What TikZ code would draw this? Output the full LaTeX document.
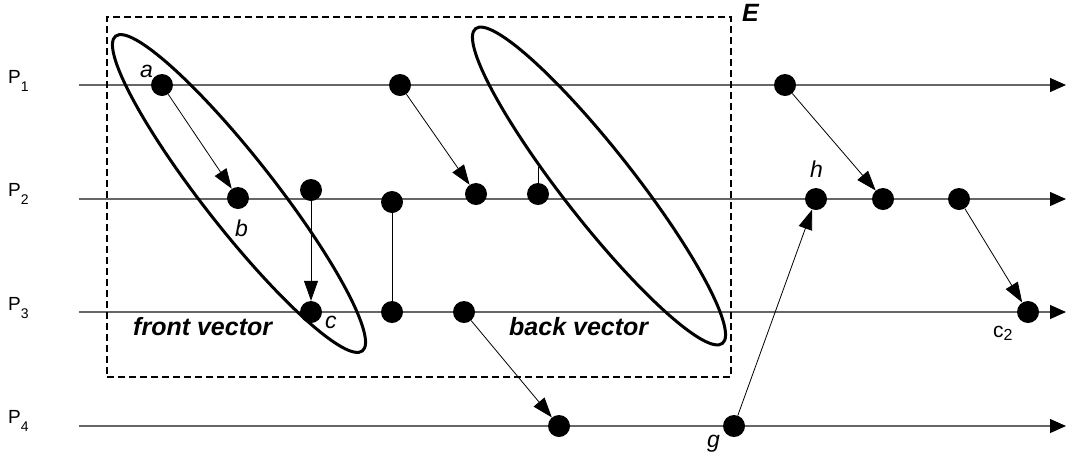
\documentclass[tikz,border=0pt]{standalone}
\usepackage{fontspec}
\setmainfont{Liberation Sans}
\usetikzlibrary{arrows.meta}
\begin{document}
\begin{tikzpicture}[x=1pt,y=-1pt,
  dot/.style={circle,fill=black,inner sep=0pt,minimum size=22pt},
  proc/.style={draw=black!60,line width=1.1pt,-{Triangle[length=16pt,width=14pt,color=black]}},
  msg/.style={draw=black,line width=0.8pt,-{Triangle[length=20pt,width=14pt]}},
  link/.style={draw=black,line width=0.8pt},
  vecell/.style={draw=black,line width=3pt},
  boxE/.style={draw=black,line width=1.4pt,dash pattern=on 7pt off 4pt},
  plab/.style={anchor=base west,inner sep=0pt,font=\fontsize{19}{19}\selectfont},
  lab/.style={anchor=base west,inner sep=0pt,font=\fontsize{23}{23}\selectfont\itshape},
  blab/.style={anchor=base west,inner sep=0pt,font=\fontsize{25}{25}\selectfont\bfseries\itshape}]
\useasboundingbox (0,0) rectangle (1066,459);
% process labels
\node[plab] (P1) at (8,83) {P\raisebox{-8pt}{\fontsize{14}{14}\selectfont 1}};
\node[plab] (P2) at (8,196) {P\raisebox{-8pt}{\fontsize{14}{14}\selectfont 2}};
\node[plab] (P3) at (8,310) {P\raisebox{-8pt}{\fontsize{14}{14}\selectfont 3}};
\node[plab] (P4) at (8,423) {P\raisebox{-8pt}{\fontsize{14}{14}\selectfont 4}};
% process lines
\coordinate (s1) at (79,85);  \coordinate (e1) at (1066,85);
\coordinate (s2) at (79,199); \coordinate (e2) at (1066,199);
\coordinate (s3) at (79,312); \coordinate (e3) at (1066,312);
\coordinate (s4) at (79,426); \coordinate (e4) at (1066,426);
\draw[proc] (s1) -- (e1);
\draw[proc] (s2) -- (e2);
\draw[proc] (s3) -- (e3);
\draw[proc] (s4) -- (e4);
% dashed box E
\node[boxE,inner sep=0pt,minimum width=624pt,minimum height=360pt] (Ebox) at (419,197) {};
\node[blab] (Elab) at (742,21) {E};
% ellipses
\draw[vecell,rotate around={-51.9:(239,193.5)}] (239,193.5) ellipse [x radius=200pt,y radius=35.5pt];
\draw[vecell,rotate around={-51.9:(599,186)}] (599,186) ellipse [x radius=200pt,y radius=35.5pt];
% dots
\node[dot] (a) at (162,85) {};
\node[dot] (p1b) at (400,85) {};
\node[dot] (p1c) at (785,85) {};
\node[dot] (b) at (238,198) {};
\node[dot] (p2b) at (311,190) {};
\node[dot] (p2c) at (392,202) {};
\node[dot] (p2d) at (476,194) {};
\node[dot] (p2e) at (538,194) {};
\node[dot] (h) at (816,199) {};
\node[dot] (p2g) at (883,199) {};
\node[dot] (p2h) at (959,199) {};
\node[dot] (c) at (311,312) {};
\node[dot] (p3b) at (392,312) {};
\node[dot] (p3c) at (464,312) {};
\node[dot] (c2) at (1028,312) {};
\node[dot] (p4a) at (559,426) {};
\node[dot] (g) at (734,426) {};
\coordinate (stick) at (538,167);
% connectors
\draw[msg] (a) -- (b);
\draw[msg] (p2b) -- (c);
\draw[link] (p2c) -- (p3b);
\draw[msg] (p1b) -- (p2d);
\draw[link] (p2e) -- (stick);
\draw[msg] (p1c) -- (p2g);
\draw[msg] (p2h) -- (c2);
\draw[msg] (p3c) -- (p4a);
\draw[msg] (g) -- (h);
% labels
\node[lab] (la) at (140,77) {a};
\node[lab] (lb) at (235,236) {b};
\node[lab] (lc) at (325,328) {c};
\node[lab] (lh) at (810,177) {h};
\node[lab] (lg) at (707,447) {g};
\node[anchor=base west,inner sep=0pt,font=\fontsize{21}{21}\selectfont] (lc2) at (993,337) {c\raisebox{-3pt}{\fontsize{16}{16}\selectfont 2}};
\node[blab] (fv) at (133,335) {front vector};
\node[blab] (bv) at (509,335) {back vector};
\end{tikzpicture}
\end{document}
